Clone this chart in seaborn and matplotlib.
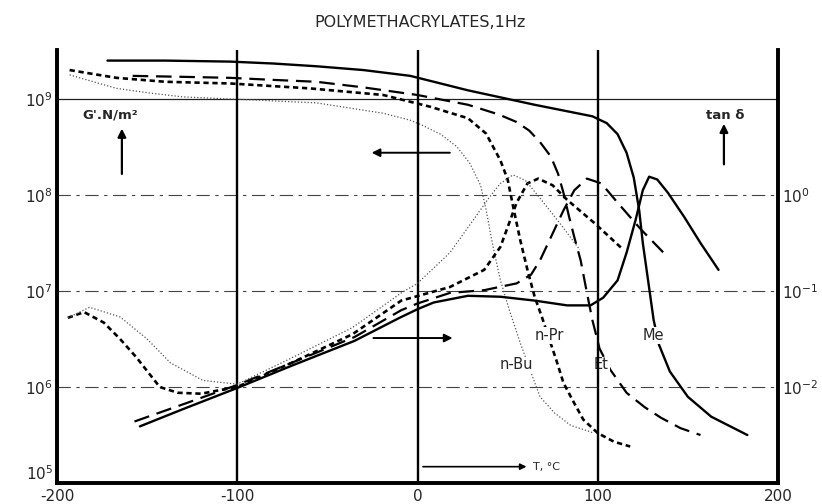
import matplotlib
matplotlib.use("Agg")
import matplotlib.pyplot as plt
import seaborn as sns
import pandas as pd

# ---------------- data ----------------
title = "POLYMETHACRYLATES,1Hz"
x_ticks = [-200, -100, 0, 100, 200]
x_tick_labels = ["-200", "-100", "0", "100", "200"]
g_ticks = [1e5, 1e6, 1e7, 1e8, 1e9]
g_tick_labels = [r"$10^5$", r"$10^6$", r"$10^7$", r"$10^8$", r"$10^9$"]
tan_ticks = [1e-2, 1e-1, 1e0]
tan_tick_labels = [r"$10^{-2}$", r"$10^{-1}$", r"$10^{0}$"]

# storage modulus G' (N/m2) vs temperature (degC)
T_me_g = [-172, -140, -104, -80, -56, -30, -4, 28, 65, 97, 105, 111, 116, 120, 123, 125, 128, 131, 134, 140, 150, 163, 183]
G_me = [2.51e9, 2.51e9, 2.45e9, 2.34e9, 2.19e9, 2.0e9, 1.74e9, 1.23e9, 8.7e8, 6.6e8, 5.6e8, 4.3e8, 2.75e8, 1.51e8,
        6.9e7, 3.16e7, 1.26e7, 5.0e6, 2.75e6, 1.45e6, 7.9e5, 4.9e5, 3.16e5]

T_et_g = [-158, -130, -104, -80, -56, -30, 0, 28, 45, 55, 62, 68, 74, 78, 81, 84, 87, 90.5, 94, 97, 101, 107, 116, 126, 135, 146, 157]
G_et = [1.74e9, 1.70e9, 1.66e9, 1.58e9, 1.51e9, 1.32e9, 1.10e9, 8.7e8, 6.9e8, 5.75e8, 4.68e8, 3.55e8, 2.51e8, 1.66e8,
        1.05e8, 6.03e7, 3.63e7, 2.09e7, 9.55e6, 5.0e6, 2.51e6, 1.51e6, 8.7e5, 6.17e5, 4.79e5, 3.72e5, 3.16e5]

T_pr_g = [-193, -180, -167, -140, -104, -60, -19, 7, 28, 38, 46, 50, 53.5, 57, 61, 65, 69, 72, 77, 81, 87, 92, 100, 109, 118]
G_pr = [2.0e9, 1.82e9, 1.66e9, 1.51e9, 1.45e9, 1.29e9, 1.10e9, 8.3e8, 6.3e8, 4.37e8, 2.29e8, 1.45e8, 6.9e7, 3.39e7,
        1.66e7, 8.7e6, 5.37e6, 3.63e6, 1.91e6, 1.10e6, 6.76e5, 4.57e5, 3.31e5, 2.69e5, 2.40e5]

T_bu_g = [-193, -167, -148, -130, -93, -56, -19, -4, 2, 13, 22, 29, 35, 38, 41.5, 46, 51, 57, 63, 68, 76, 85, 98]
G_bu = [1.78e9, 1.29e9, 1.15e9, 1.05e9, 9.8e8, 9.1e8, 7.1e8, 6.0e8, 5.4e8, 4.27e8, 3.16e8, 2.14e8, 1.26e8, 7.1e7,
        3.16e7, 1.29e7, 6.3e6, 2.88e6, 1.41e6, 7.9e5, 5.37e5, 3.98e5, 3.31e5]

# loss tangent tan(delta) vs temperature (degC)
T_me_t = [-154, -130, -100, -70, -35, -10, 0, 9, 28, 46, 65, 83, 96, 103, 111, 116, 121, 125, 128.5, 133, 139, 148, 157, 167]
tan_me = [3.89e-3, 5.89e-3, 9.77e-3, 1.66e-2, 3.02e-2, 5.25e-2, 6.46e-2, 7.59e-2, 8.91e-2, 8.71e-2, 7.94e-2, 7.08e-2,
          7.08e-2, 8.51e-2, 0.129, 0.251, 0.55, 1.12, 1.55, 1.45, 1.05, 0.589, 0.316, 0.166]

T_et_t = [-157, -130, -100, -70, -35, -9, 0, 18, 37, 55, 63, 68, 74, 81, 87, 94, 102, 111, 124, 139]
tan_et = [4.37e-3, 6.61e-3, 1.05e-2, 1.78e-2, 3.31e-2, 6.31e-2, 7.41e-2, 9.55e-2, 0.102, 0.120, 0.148, 0.209, 0.363,
          0.692, 1.12, 1.48, 1.32, 0.832, 0.437, 0.224]

T_pr_t = [-194, -185, -174, -165, -156, -143, -133, -120, -109, -100, -70, -36, -9, 18, 37, 46, 55, 61, 67, 75, 83, 98, 113]
tan_pr = [5.25e-2, 6.03e-2, 4.68e-2, 3.16e-2, 2.04e-2, 1.0e-2, 8.71e-3, 8.51e-3, 9.33e-3, 1.0e-2, 1.78e-2, 3.55e-2,
          7.94e-2, 0.110, 0.166, 0.288, 0.832, 1.32, 1.48, 1.26, 0.891, 0.513, 0.282]

T_bu_t = [-194, -182, -165, -150, -137, -119, -100, -70, -36, -9, 0, 18, 31, 40, 46, 53, 60, 70, 80, 90]
tan_bu = [5.25e-2, 6.76e-2, 5.37e-2, 3.16e-2, 1.78e-2, 1.17e-2, 1.07e-2, 2.0e-2, 4.17e-2, 9.55e-2, 0.120, 0.251, 0.55,
          0.955, 1.32, 1.62, 1.41, 0.832, 0.479, 0.269]

# ---------------- styling ----------------
sns.set_style("white")
plt.rcParams["font.family"] = ["DejaVu Sans"]

fig = plt.figure(figsize=(8.22, 5.04), dpi=100)
ax = fig.add_axes([57 / 822, 21 / 504, 721 / 822, 433 / 504])
ax.set_yscale("log")
ax.set_xlim(-200, 200)
ax.set_ylim(1e5, 10 ** 9.51)

styles = {
    "Me": dict(color="black", lw=1.7, linestyle="-"),
    "Et": dict(color="black", lw=1.6, linestyle=(0, (7, 3.5))),
    "n-Pr": dict(color="black", lw=1.9, linestyle=(0, (2.0, 1.4))),
    "n-Bu": dict(color="#555555", lw=0.9, linestyle=(0, (1.0, 1.6))),
}

# horizontal reference lines
for v in [1e6, 1e7, 1e8]:
    ax.axhline(v, color="#444444", lw=0.8, linestyle=(0, (12, 5, 3, 5)), zorder=1)
ax.axhline(1e9, color="#222222", lw=0.9, zorder=1)
# vertical reference lines
for v in [-100, 0, 100]:
    ax.axvline(v, color="black", lw=1.7, zorder=5)

g_series = [("Me", T_me_g, G_me), ("Et", T_et_g, G_et), ("n-Pr", T_pr_g, G_pr), ("n-Bu", T_bu_g, G_bu)]
for name, T, G in g_series:
    sns.lineplot(x=T, y=G, ax=ax, estimator=None, sort=False, zorder=3, **styles[name])

ax2 = ax.twinx()
ax2.set_yscale("log")
ax2.set_ylim(1e-3, 10 ** 1.51)
t_series = [("Me", T_me_t, tan_me), ("Et", T_et_t, tan_et), ("n-Pr", T_pr_t, tan_pr), ("n-Bu", T_bu_t, tan_bu)]
for name, T, tn in t_series:
    sns.lineplot(x=T, y=tn, ax=ax2, estimator=None, sort=False, zorder=3, **styles[name])

# spines
for a in (ax, ax2):
    a.spines["top"].set_visible(False)
    for s in ("left", "right", "bottom"):
        a.spines[s].set_linewidth(2.6)
        a.spines[s].set_color("black")

ax.set_xticks(x_ticks)
ax.set_xticklabels(x_tick_labels, fontsize=11)
ax.set_yticks(g_ticks)
ax.set_yticklabels(g_tick_labels, fontsize=11)
ax.get_yticklabels()[0].set_verticalalignment("bottom")
ax.minorticks_off()
ax.tick_params(axis="both", length=0, pad=3)
ax.tick_params(axis="x", pad=4)
ax.set_xlabel("")
ax.set_ylabel("")
ax2.set_yticks(tan_ticks)
ax2.set_yticklabels(tan_tick_labels, fontsize=11)
ax2.minorticks_off()
ax2.tick_params(axis="y", length=0, pad=3)
ax2.set_ylabel("")

# titles and annotations
fig.text(0.511, 0.955, title, ha="center", va="center", fontsize=11.5)

ax.text(-186, 10 ** 8.83, "G'.N/m²", ha="left", va="center", fontsize=9.5, fontweight="bold")
ax.annotate("", xy=(-164, 10 ** 8.72), xytext=(-164, 10 ** 8.19),
            arrowprops=dict(arrowstyle="-|>", color="black", lw=1.6, mutation_scale=12))
ax.text(171, 10 ** 8.83, "tan δ", ha="center", va="center", fontsize=9.5, fontweight="bold")
ax.annotate("", xy=(170, 10 ** 8.77), xytext=(170, 10 ** 8.29),
            arrowprops=dict(arrowstyle="-|>", color="black", lw=1.6, mutation_scale=12))
ax.annotate("", xy=(-27, 10 ** 8.44), xytext=(19.5, 10 ** 8.44),
            arrowprops=dict(arrowstyle="-|>", color="black", lw=1.4, mutation_scale=12))
ax.annotate("", xy=(21, 10 ** 6.51), xytext=(-26, 10 ** 6.51),
            arrowprops=dict(arrowstyle="-|>", color="black", lw=1.4, mutation_scale=12))
ax.annotate("", xy=(62, 10 ** 5.17), xytext=(1.5, 10 ** 5.17),
            arrowprops=dict(arrowstyle="-|>", color="black", lw=1.2, mutation_scale=9))
ax.text(64, 10 ** 5.17, "T, °C", ha="left", va="center", fontsize=8)

label_box = dict(facecolor="white", edgecolor="none", pad=0.6)
for name, tx, gy in [("n-Pr", 73, 10 ** 6.54), ("n-Bu", 55, 10 ** 6.23), ("Et", 102, 10 ** 6.23), ("Me", 131, 10 ** 6.54)]:
    ax.text(tx, gy, name, ha="center", va="center", fontsize=10.5, bbox=label_box, zorder=4)

fig.savefig("out.png", dpi=100)
